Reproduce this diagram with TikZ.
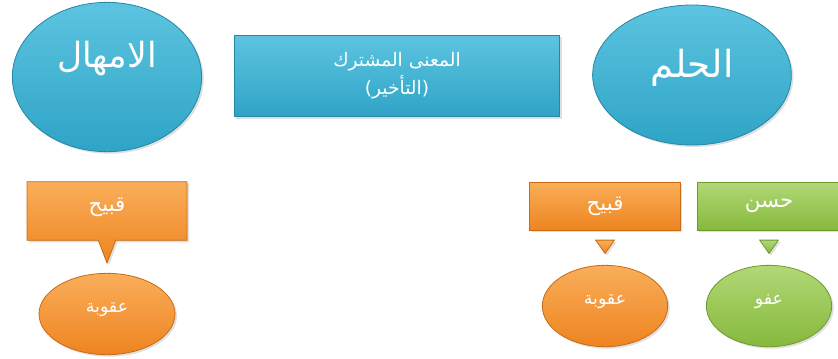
\documentclass[tikz,border=0pt]{standalone}
\usepackage{fontspec}
\usetikzlibrary{shapes.geometric,shapes.callouts,shadows}
\newfontfamily\arabicfont[Script=Arabic]{DejaVu Sans}
\TeXXeTstate=1
\definecolor{sabrBlue}{HTML}{2FA4C6}
\definecolor{sabrBlueTop}{HTML}{5CC4E0}
\definecolor{sabrBlueEdge}{HTML}{2487A6}
\definecolor{sabrOrange}{HTML}{EE8420}
\definecolor{sabrOrangeTop}{HTML}{F9AE5A}
\definecolor{sabrOrangeEdge}{HTML}{C96A14}
\definecolor{sabrGreen}{HTML}{86B93C}
\definecolor{sabrGreenTop}{HTML}{B1D876}
\definecolor{sabrGreenEdge}{HTML}{6E9A2E}

\begin{document}
\begin{tikzpicture}[x=0.75pt,y=-0.75pt,
  gloss/.style={top color=#1Top, bottom color=#1, draw=#1Edge, line width=0.6pt,
    drop shadow={opacity=0.25, shadow xshift=1.5pt, shadow yshift=-1.5pt}, text=white},
  bigoval/.style={ellipse, gloss=sabrBlue, minimum width=#1},
  smalloval/.style={ellipse, gloss=#1, minimum width=94pt, minimum height=61pt, text depth=9pt,
    font=\arabicfont\fontsize{13}{15}\selectfont},
  tag/.style={rectangle, gloss=#1, font=\arabicfont\fontsize{16}{18}\selectfont},
  tip/.style={isosceles triangle, shape border rotate=270, isosceles triangle apex angle=70,
    inner sep=0pt, minimum width=13pt, minimum height=10pt, gloss=#1}]
\useasboundingbox (0,0) rectangle (838,358);

% top row
\node[bigoval=142pt, minimum height=112pt, text depth=34pt, font=\arabicfont\fontsize{26}{30}\selectfont] (imhal) at (107,77) {\beginR الامهال\endR};
\node[rectangle, gloss=sabrBlue, minimum width=244pt, minimum height=61pt, align=center,
  font=\arabicfont\fontsize{14}{21}\selectfont] (common) at (397,76)
  {\beginR المعنى المشترك\endR\\\beginR (التأخير)\endR};
\node[bigoval=149pt, minimum height=105pt, text depth=18pt, font=\arabicfont\fontsize{28}{32}\selectfont] (hilm) at (692,75) {\beginR الحلم\endR};

% left branch
\node[rectangle callout, gloss=sabrOrange, minimum width=120pt, minimum height=44pt,
  callout absolute pointer={(107,263)}, callout pointer width=13pt, text depth=9pt,
  font=\arabicfont\fontsize{16}{18}\selectfont] (qabihL) at (107,211) {\beginR قبيح\endR};
\node[smalloval=sabrOrange, minimum width=102pt] (uqubaL) at (107,314) {\beginR عقوبة\endR};

% right branches
\foreach \name/\col/\x/\w/\boxtext/\ovaltext in {R/sabrOrange/605/113pt/قبيح/عقوبة, G/sabrGreen/769/108pt/حسن/عفو} {
  \node[tag=\col, minimum width=\w, minimum height=36pt] (box\name) at (\x,206) {\beginR\boxtext\endR};
  \node[tip=\col] (tip\name) at (\x,245) {};
  \node[smalloval=\col] (oval\name) at (\x,306) {\beginR\ovaltext\endR};
}
\end{tikzpicture}
\end{document}
